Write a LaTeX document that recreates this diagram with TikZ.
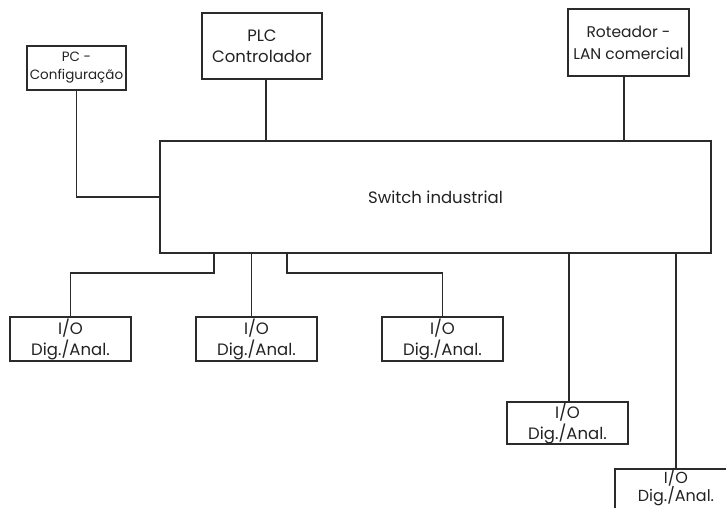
\documentclass[tikz,border=0pt]{standalone}
\usepackage{fontspec}
\setmainfont{Poppins}
\usetikzlibrary{calc}
\definecolor{ln}{HTML}{2B2B2B}
\definecolor{tx}{HTML}{222222}
\begin{document}
\begin{tikzpicture}[x=1pt,y=1pt,
  box/.style={draw=ln, line width=1.7pt, rectangle, inner sep=0pt, align=center,
    text=tx, font=\fontsize{16.5}{21}\selectfont},
  lbl/.style={inner sep=0pt, align=center, text=tx, font=\fontsize{16}{18}\selectfont},
  wire/.style={draw=ln, line width=1.7pt}]
\useasboundingbox (0,0) rectangle (726,-508);
\clip (0,0) rectangle (726,-508);
\node[box, minimum width=99, minimum height=44, font=\fontsize{13.5}{18}\selectfont] (pc) at (76.5,-68) {PC -\\Configuração};
\node[box, minimum width=120, minimum height=66] (plc) at (262,-46) {PLC\\Controlador};
\node[box, minimum width=121, minimum height=67, font=\fontsize{15.5}{22}\selectfont] (rot) at (628.5,-42.5) {Roteador -\\LAN comercial};
\node[box, minimum width=551, minimum height=112] (sw) at (435.5,-197) {Switch industrial};
\node[box, minimum width=121, minimum height=44] (io1) at (70.5,-339) {I/O\\Dig./Anal.};
\node[box, minimum width=121, minimum height=44] (io2) at (256.5,-339) {I/O\\Dig./Anal.};
\node[box, minimum width=121, minimum height=44] (io3) at (442.5,-339) {I/O\\Dig./Anal.};
\node[box, minimum width=121, minimum height=42] (io4) at (567.5,-423) {I/O\\Dig./Anal.};
\node[box, minimum width=122, minimum height=60, anchor=north] (io5) at (676,-468) {};
\node[lbl, anchor=north] (io5t) at (io5.north) {I/O\\Dig./Anal.};
\coordinate (p1) at (214,-273);
\coordinate (p3) at (287,-273);
\draw[wire] (pc.south) |- (sw.west);
\draw[wire] ([xshift=4]plc.south) -- ([xshift=4]plc.south |- sw.north);
\draw[wire] ([xshift=-4.5]rot.south) -- ([xshift=-4.5]rot.south |- sw.north);
\draw[wire] (io1.north) |- (p1) -- (p1 |- sw.south);
\draw[wire] ([xshift=-5]io2.north) -- ([xshift=-5]io2.north |- sw.south);
\draw[wire] (io3.north) |- (p3) -- (p3 |- sw.south);
\draw[wire] ([xshift=1.5]io4.north) -- ([xshift=1.5]io4.north |- sw.south);
\draw[wire] (io5.north) -- (io5.north |- sw.south);
\end{tikzpicture}
\end{document}
